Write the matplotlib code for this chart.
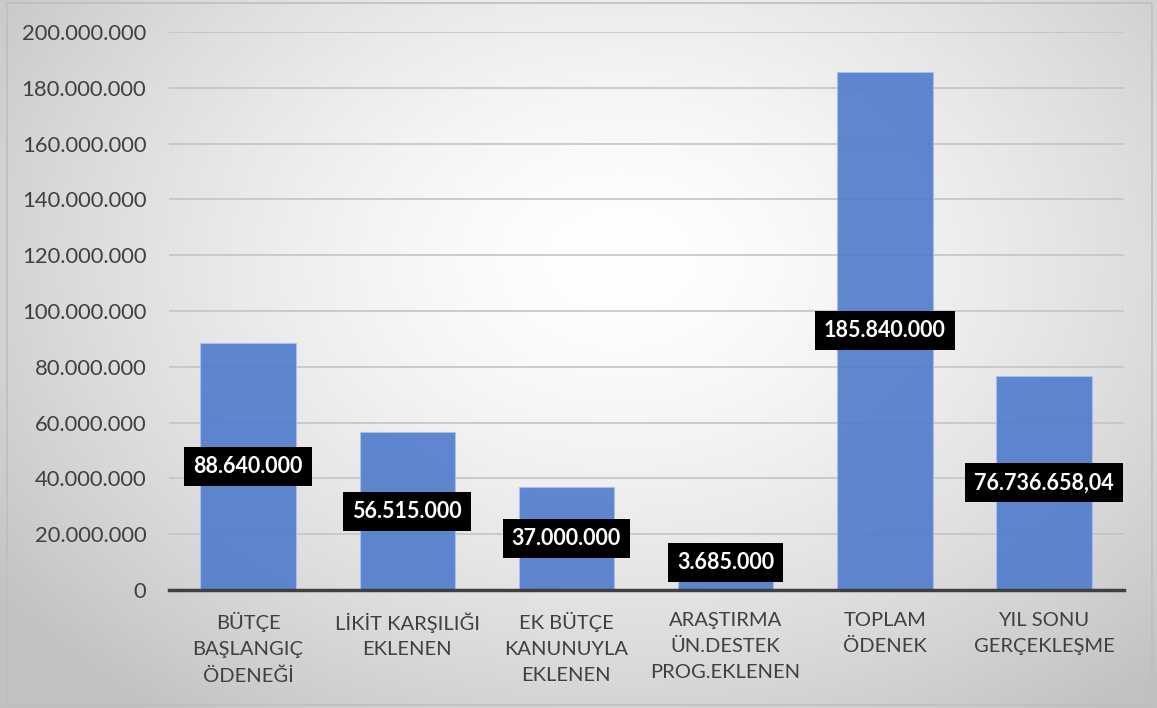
import numpy as np
import matplotlib.pyplot as plt
from matplotlib.ticker import FuncFormatter

# veriler
kategoriler = ['BÜTÇE\nBAŞLANGIÇ\nÖDENEĞİ', 'LİKİT KARŞILIĞI\nEKLENEN', 'EK BÜTÇE\nKANUNUYLA\nEKLENEN',
               'ARAŞTIRMA\nÜN.DESTEK\nPROG.EKLENEN', 'TOPLAM\nÖDENEK', 'YIL SONU\nGERÇEKLEŞME']
degerler = [88640000, 56515000, 37000000, 3685000, 185840000, 76736658.04]
etiketler = ['88.640.000', '56.515.000', '37.000.000', '3.685.000', '185.840.000', '76.736.658,04']
yticks = np.arange(0, 200000001, 20000000)

plt.rcParams['font.family'] = ['Lato', 'DejaVu Sans']

fig = plt.figure(figsize=(11.57, 7.08), dpi=100)

# radyal gradyan arka plan
bg = fig.add_axes([0, 0, 1, 1], zorder=-10)
yy, xx = np.mgrid[0:708, 0:1157]
r = np.sqrt(((xx - 620) / 820.0) ** 2 + ((yy - 260) / 600.0) ** 2)
g = np.clip(1.0 - 0.26 * r ** 1.5, 0.76, 1.0)
bg.imshow(np.dstack([g, g, g]), extent=[0, 1, 0, 1], aspect='auto', origin='upper')
bg.plot([0.006, 0.996, 0.996, 0.006, 0.006], [0.996, 0.996, 0.004, 0.004, 0.996],
        color='#BEBEBE', lw=1.2)
bg.set_xlim(0, 1)
bg.set_ylim(0, 1)
bg.axis('off')

ax = fig.add_axes([168.5 / 1157, 1 - 590 / 708, (1123.5 - 168.5) / 1157, 558 / 708])
ax.patch.set_alpha(0)

x = np.arange(len(degerler))
ax.bar(x, degerler, width=0.6, color='#4F7BCB', alpha=0.9, edgecolor='#A9C0E8', lw=0.8, zorder=2)

ax.set_xlim(-0.5, len(degerler) - 0.5)
ax.set_ylim(0, 200000000)
ax.set_yticks(yticks)
ax.yaxis.set_major_formatter(FuncFormatter(lambda v, p: f'{int(v):,}'.replace(',', '.')))
ax.grid(axis='y', color='#C4C4C4', lw=1.2, zorder=1)
ax.set_axisbelow(True)
for s in ['top', 'right', 'left']:
    ax.spines[s].set_visible(False)
ax.spines['bottom'].set_color('#404040')
ax.spines['bottom'].set_linewidth(2.5)
ax.spines['bottom'].set_zorder(5)
ax.tick_params(axis='both', length=0, colors='#404040')
ax.tick_params(axis='y', pad=16, labelsize=15.8)
ax.tick_params(axis='x', pad=16, labelsize=14.5)
ax.set_xticks(x)
ax.set_xticklabels(kategoriler, linespacing=1.62)

for xi, v, lab in zip(x, degerler, etiketler):
    ax.text(xi, max(v / 2, 9700000), lab, ha='center', va='center', color='white',
            fontsize=15.5, fontweight='bold', zorder=6,
            bbox=dict(boxstyle='square,pad=0.42', fc='black', ec='none'))

fig.savefig('out.png', dpi=100)
